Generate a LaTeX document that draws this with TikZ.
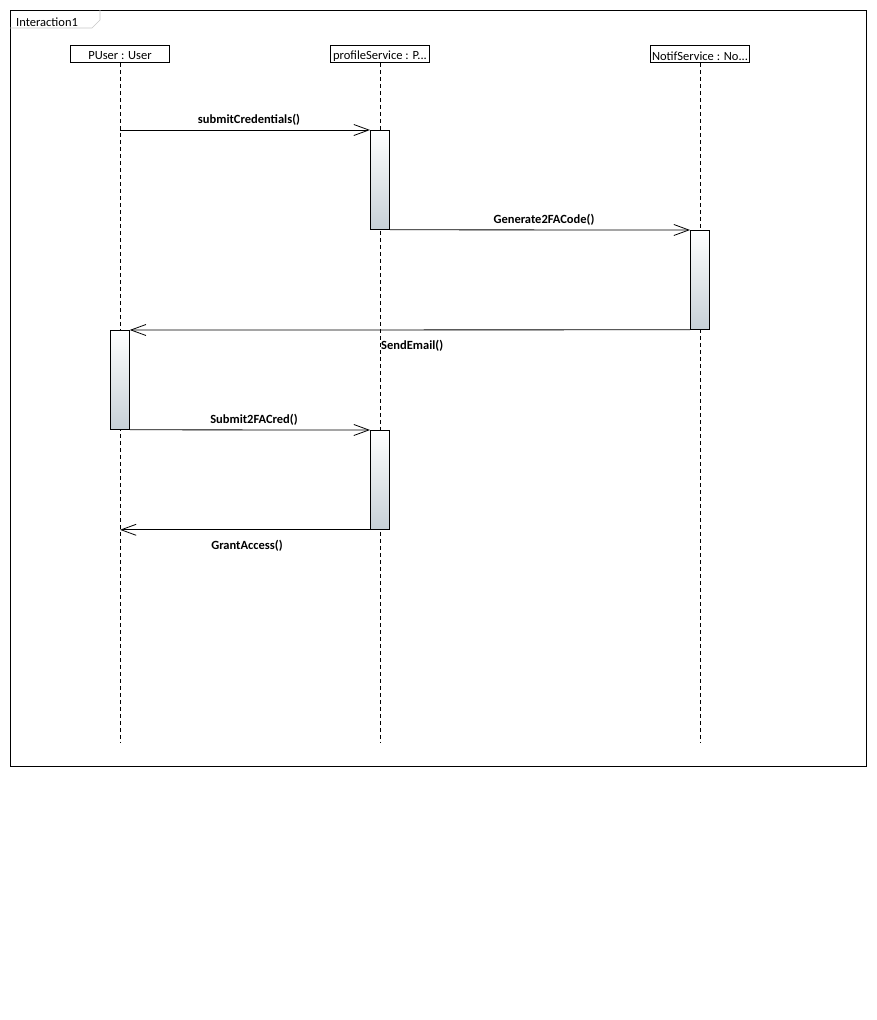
\documentclass[tikz,border=0pt]{standalone}
\usepackage{fontspec}
\setmainfont{Carlito}
\usetikzlibrary{arrows.meta}
\definecolor{actbot}{RGB}{198,208,214}
\definecolor{tabline}{RGB}{200,200,200}
\begin{document}
\begin{tikzpicture}[x=1pt,y=-1pt,
  font=\fontsize{12.5}{14}\selectfont,
  head/.style={draw, line width=0.8pt, minimum width=99pt, minimum height=17pt,
    inner sep=0pt, anchor=north, fill=white},
  act/.style={draw, line width=0.8pt, minimum width=19pt, minimum height=99pt,
    inner sep=0pt, anchor=north west, top color=white, bottom color=actbot},
  life/.style={line width=0.7pt, dash pattern=on 4pt off 3pt},
  msg/.style={line width=0.8pt, -{Straight Barb[length=15pt,width=11pt,line width=0.8pt]}},
  lbl/.style={font=\fontsize{12.5}{14}\selectfont\bfseries, inner sep=0pt}]
\useasboundingbox (0,0) rectangle (877,1020);
\fill[white] (0,0) rectangle (877,1020);

% interaction frame with its name tab
\draw[line width=0.8pt] (10,10) rectangle (866,766);
\draw[tabline, line width=0.7pt] (10,28) -- (92,28) -- (100,20) -- (100,10);
\node[anchor=west, inner sep=0pt] (title) at (16,22) {Interaction1};

% lifeline heads
\node[head] (pu) at (120,45) {};
\node[head] (ps) at (380,45) {};
\node[head] (ns) at (700,45) {};
\node[inner sep=0pt] (put) at (120,56) {PUser : User};
\node[inner sep=0pt] (pst) at (380,56) {profileService : P...};
\node[inner sep=0pt] (nst) at (700,56) {NotifService : No...};

% lifeline ends
\coordinate (puend) at (120,743);
\coordinate (psend) at (380,743);
\coordinate (nsend) at (700,743);
\draw[life] (pu.south) -- (puend);
\draw[life] (ps.south) -- (psend);
\draw[life] (ns.south) -- (nsend);

% activation bars
\node[act] (a1) at (370,130) {};
\node[act] (a2) at (690,230) {};
\node[act] (a3) at (110,330) {};
\node[act] (a4) at (370,430) {};

% messages
\draw[msg] (pu |- a1.north west) -- (a1.north west);
\node[lbl] (m1) at (249,120) {submitCredentials()};

\draw[msg] (a1.south east) -- (a2.north west);
\node[lbl] (m2) at (544,220) {Generate2FACode()};

\draw[msg] (a2.south west) -- (a3.north east);
\node[lbl, anchor=west] (m3) at (381,346) {SendEmail()};

\draw[msg] (a3.south east) -- (a4.north west);
\node[lbl] (m4) at (254,420) {Submit2FACred()};

\draw[msg] (a4.south west) -- (pu |- a4.south west);
\node[lbl] (m5) at (247,546) {GrantAccess()};
\end{tikzpicture}
\end{document}
